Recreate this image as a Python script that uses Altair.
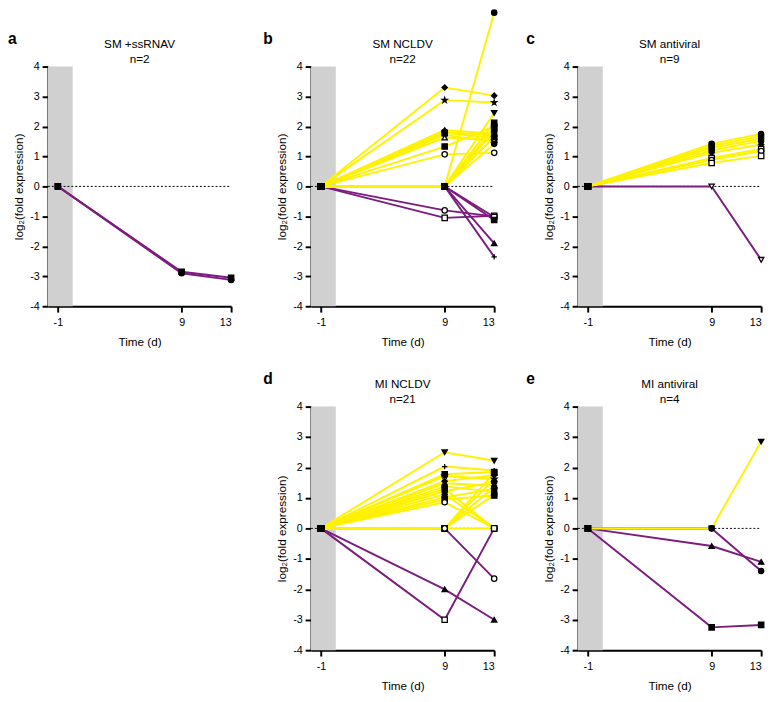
import altair as alt
import pandas as pd

FONT = "Liberation Sans"
YELLOW = "#FFF200"
PURPLE = "#7B1C7E"

# ---------------- data ----------------
times = [-1, 9, 13]
baseline = 0.0  # value at day -1 (reference)

# panel a: SM +ssRNAV, n=2
a_d9 = [-2.85, -2.90]
a_d13 = [-3.05, -3.12]
a_dir = ["down", "down"]
a_shape = ["square", "circle"]
a_filled = [1, 1]

# panel b: SM NCLDV, n=22
b_d9 = [3.30, 2.88, 1.88, 1.82, 1.78, 1.72, 1.63, 1.33, 1.07,
        0.0, 0.0, 0.0, 0.0, 0.0, 0.0, 0.0,
        -0.80, -1.05, 0.0, 0.0, 0.0, 0.0]
b_d13 = [3.03, 2.80, 1.76, 1.70, 1.62, 1.48, 1.55, 2.00, 1.12,
         5.80, 2.45, 2.12, 1.95, 1.82, 1.65, 1.42,
         -1.00, -0.98, -1.02, -1.12, -1.90, -2.35]
b_dir = ["up"] * 16 + ["down"] * 6
b_shape = ["diamond", "star", "triangle-up", "circle", "square", "diamond", "triangle-up", "square", "circle",
           "circle", "triangle-down", "square", "square", "cross", "triangle-up", "circle",
           "circle", "square", "square", "square", "triangle-up", "plus"]
b_filled = [1, 1, 1, 1, 1, 1, 0, 1, 0,
            1, 1, 1, 1, 1, 1, 1,
            0, 0, 0, 1, 1, 1]

# panel c: SM antiviral, n=9
c_d9 = [1.42, 1.35, 1.28, 1.20, 1.12, 0.95, 0.88, 0.78, 0.0]
c_d13 = [1.75, 1.68, 1.60, 1.52, 1.40, 1.25, 1.18, 1.02, -2.45]
c_dir = ["up"] * 8 + ["down"]
c_shape = ["circle", "circle", "circle", "circle", "diamond", "square", "circle", "square", "triangle-down"]
c_filled = [1, 1, 1, 1, 1, 0, 0, 0, 0]

# panel d: MI NCLDV, n=21
d_d9 = [2.50, 2.03, 1.78, 1.72, 1.55, 1.48, 1.38, 1.30, 1.22, 1.12, 1.02, 0.95, 0.86,
        0.0, 0.0, 0.0, 0.0, 0.0,
        -2.00, -3.00, 0.0]
d_d13 = [2.22, 1.90, 1.85, 1.62, 1.75, 1.40, 1.20, 0.0, 1.52, 0.0, 1.30, 1.08, 0.0,
         1.10, 1.35, 1.62, 1.82, 0.0,
         -3.00, 0.0, -1.65]
d_dir = ["up"] * 18 + ["down"] * 3
d_shape = ["triangle-down", "plus", "square", "star", "diamond", "triangle-up", "circle", "circle", "circle",
           "diamond", "circle", "square", "circle",
           "circle", "circle", "triangle-up", "square", "square",
           "triangle-up", "square", "circle"]
d_filled = [1, 1, 1, 1, 1, 1, 1, 1, 1, 1, 1, 1, 0,
            1, 1, 1, 1, 1,
            1, 0, 0]

# panel e: MI antiviral, n=4
e_d9 = [0.0, 0.0, -0.58, -3.25]
e_d13 = [2.85, -1.40, -1.10, -3.17]
e_dir = ["up", "down", "down", "down"]
e_shape = ["triangle-down", "circle", "triangle-up", "square"]
e_filled = [1, 1, 1, 1]

x_ticks = [-1, 9, 13]
y_ticks = [-4, -3, -2, -1, 0, 1, 2, 3, 4]
x_domain = [-1.8, 13]
y_domain = [-4, 4]
shade_end = 0.2

# ---------------- styling ----------------
SHAPES = {
    "star": "M0,-1L0.224,-0.309L0.951,-0.309L0.363,0.118L0.588,0.809L0,0.382L-0.588,0.809L-0.363,0.118L-0.951,-0.309L-0.224,-0.309Z",
    "plus": "M-1,0L1,0M0,-1L0,1",
}

W = 188
H1, H2 = 246, 250

xs = alt.Scale(domain=x_domain, nice=False, zero=False)
ys = alt.Scale(domain=y_domain, nice=False, zero=False)
LBL = "'' + datum.value"
xaxis = alt.Axis(values=x_ticks, title="Time (d)", labelPadding=5, titlePadding=9, labelExpr=LBL)
yaxis = alt.Axis(values=y_ticks, title="log\u2082(fold expression)", labelPadding=3, titlePadding=4,
                 labelExpr=LBL)


def text_at(s, x, y, **kw):
    return alt.Chart(pd.DataFrame({"t": [s]})).mark_text(font=FONT, color="black", **kw).encode(
        text="t:N", x=alt.value(x), y=alt.value(y))


def panel(d9, d13, dirs, shapes, filled, title, n, letter, letter_dx, h):
    rows = []
    for i in range(len(d9)):
        for t, v in zip(times, [baseline, d9[i], d13[i]]):
            first = t == times[0]
            rows.append(dict(sid=i, time=t, value=v, dir=dirs[i],
                             shape="square" if first else SHAPES.get(shapes[i], shapes[i]),
                             fill="black" if (filled[i] or first) else "white"))
    df = pd.DataFrame(rows)

    shade = alt.Chart(pd.DataFrame({"x0": [x_domain[0]], "x1": [shade_end],
                                    "y0": [y_domain[0]], "y1": [y_domain[1]]})).mark_rect(
        color="#D0D0D0").encode(
        x=alt.X("x0:Q", scale=xs, axis=xaxis),
        x2="x1:Q",
        y=alt.Y("y0:Q", scale=ys, axis=yaxis),
        y2="y1:Q",
    )
    zero = alt.Chart(pd.DataFrame({"x0": [x_domain[0]], "x1": [x_ticks[-1]], "y0": [0]})).mark_rule(
        color="black", strokeDash=[2, 2], strokeWidth=1).encode(
        x=alt.X("x0:Q", scale=xs, axis=xaxis),
        x2="x1:Q",
        y=alt.Y("y0:Q", scale=ys, axis=yaxis),
    )

    def lines(direction, color):
        return alt.Chart(df[df["dir"] == direction]).mark_line(color=color, strokeWidth=2).encode(
            x=alt.X("time:Q", scale=xs, axis=xaxis),
            y=alt.Y("value:Q", scale=ys, axis=yaxis),
            detail="sid:N",
            order="time:Q",
        )

    pts = alt.Chart(df).mark_point(filled=True, size=30, strokeWidth=1.3, opacity=1).encode(
        x=alt.X("time:Q", scale=xs, axis=xaxis),
        y=alt.Y("value:Q", scale=ys, axis=yaxis),
        shape=alt.Shape("shape:N", scale=None),
        fill=alt.Fill("fill:N", scale=None),
        stroke=alt.value("black"),
    )
    lab = text_at(letter, letter_dx, -23, align="left", baseline="alphabetic", fontWeight="bold", fontSize=16)
    t1 = text_at(title, W / 2, -23, align="center", baseline="middle", fontSize=12)
    t2 = text_at(n, W / 2, -8, align="center", baseline="middle", fontSize=12)

    layers = [shade, zero, lines("down", PURPLE), lines("up", YELLOW), pts, lab, t1, t2]
    return alt.layer(*layers).properties(width=W, height=h)


pa = panel(a_d9, a_d13, a_dir, a_shape, a_filled, "SM +ssRNAV", "n=2", "a", -41, H1)
pb = panel(b_d9, b_d13, b_dir, b_shape, b_filled, "SM NCLDV", "n=22", "b", -49, H1)
pc = panel(c_d9, c_d13, c_dir, c_shape, c_filled, "SM antiviral", "n=9", "c", -53, H1)
pd_ = panel(d_d9, d_d13, d_dir, d_shape, d_filled, "MI NCLDV", "n=21", "d", -49, H2)
pe = panel(e_d9, e_d13, e_dir, e_shape, e_filled, "MI antiviral", "n=4", "e", -53, H2)

blank = alt.Chart(pd.DataFrame({"v": [0]})).mark_point(opacity=0).encode(
    x=alt.X("v:Q", axis=None), y=alt.Y("v:Q", axis=None)).properties(width=W, height=H2)

chart = alt.concat(pa, pb, pc, blank, pd_, pe, columns=3,
                   spacing={"row": 25, "column": 27}).properties(
    padding={"left": 0, "top": -10, "right": 0, "bottom": 0}
).configure_axis(
    grid=False, domainColor="black", tickColor="black", labelColor="black", titleColor="black",
    labelFont=FONT, titleFont=FONT, labelFontSize=11, titleFontSize=12, titleFontWeight="normal",
    domainWidth=2, tickWidth=2, tickSize=6,
).configure_view(strokeWidth=0)

chart.save("out.html", embed_options={"renderer": "svg", "actions": False})
